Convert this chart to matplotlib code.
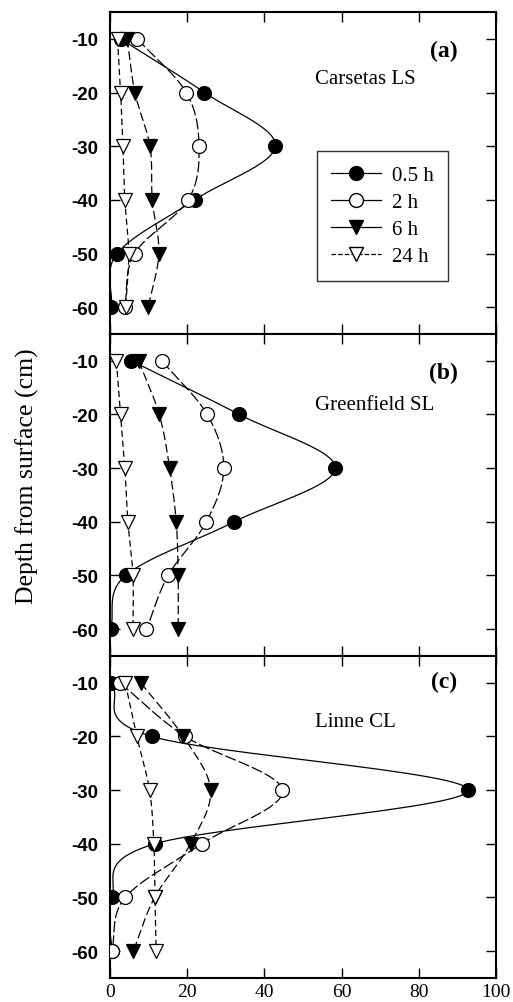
import numpy as np
import matplotlib
matplotlib.use("Agg")
import matplotlib.pyplot as plt

# Depth levels (cm) shared by all panels
depth = [-10, -20, -30, -40, -50, -60]

# Panel (a) Carsetas LS
a_05h = [2.8, 24.5, 42.9, 22.0, 1.9, 0.4]
a_2h = [7.1, 19.8, 23.1, 20.3, 6.4, 3.9]
a_6h = [4.5, 6.5, 10.4, 11.0, 12.7, 9.9]
a_24h = [2.0, 2.8, 3.4, 3.9, 4.9, 4.1]

# Panel (b) Greenfield SL
b_05h = [5.6, 33.5, 58.4, 32.2, 4.1, 0.2]
b_2h = [13.5, 25.2, 29.5, 25.0, 15.1, 9.5]
b_6h = [7.5, 12.8, 15.5, 17.2, 17.7, 17.7]
b_24h = [1.7, 2.8, 3.9, 4.7, 6.0, 6.0]

# Panel (c) Linne CL
c_05h = [0.3, 10.9, 92.8, 11.7, 0.5, 0.5]
c_2h = [2.6, 19.5, 44.7, 23.8, 4.0, 0.5]
c_6h = [8.0, 19.0, 26.1, 20.9, 11.6, 6.1]
c_24h = [4.0, 7.0, 10.3, 11.4, 11.7, 12.0]

panels = [
    ("(a)", "Carsetas LS", [a_05h, a_2h, a_6h, a_24h]),
    ("(b)", "Greenfield SL", [b_05h, b_2h, b_6h, b_24h]),
    ("(c)", "Linne CL", [c_05h, c_2h, c_6h, c_24h]),
]
series_labels = ["0.5 h", "2 h", "6 h", "24 h"]
x_ticks = [0, 20, 40, 60, 80, 100]
y_ticks = [-10, -20, -30, -40, -50, -60]


def smooth(ys, xs, n=30):
    # Catmull-Rom through the points, x as a function of depth
    ys = np.asarray(ys, float)
    xs = np.asarray(xs, float)
    py = np.concatenate([[2 * ys[0] - ys[1]], ys, [2 * ys[-1] - ys[-2]]])
    px = np.concatenate([[2 * xs[0] - xs[1]], xs, [2 * xs[-1] - xs[-2]]])
    out_y, out_x = [], []
    t = np.linspace(0, 1, n)
    for i in range(1, len(py) - 2):
        for p, out in ((py, out_y), (px, out_x)):
            p0, p1, p2, p3 = p[i - 1], p[i], p[i + 1], p[i + 2]
            out.append(0.5 * ((2 * p1) + (-p0 + p2) * t
                              + (2 * p0 - 5 * p1 + 4 * p2 - p3) * t ** 2
                              + (-p0 + 3 * p1 - 3 * p2 + p3) * t ** 3))
    return np.concatenate(out_y), np.maximum(np.concatenate(out_x), 0)


# marker, face colour, curve dashes, legend line style
styles = [
    ("o", "black", None, "-"),
    ("o", "white", (9, 2.5), "-"),
    ("v", "black", (7, 3), "-"),
    ("v", "white", (5, 3), "--"),
]

fig = plt.figure(figsize=(5.13, 10.03), dpi=100)
left, right = 0.214, 0.967
tops = [0.987, 0.666, 0.345]
h = 0.321

serif = "Liberation Serif"
sans = "Liberation Sans"

for k, (letter, soil, data) in enumerate(panels):
    ax = fig.add_axes([left, tops[k] - h, right - left, h])
    for vals, (mk, fc, dash, lls), lab in zip(data, styles, series_labels):
        cy, cx = smooth(depth, vals)
        line, = ax.plot(cx, cy, color="black", lw=0.9)
        if dash:
            line.set_dashes(dash)
        ax.plot(vals, depth, ls="none", marker=mk, mfc=fc,
                mec="black", mew=0.9, ms=10, zorder=3)
        # legend proxy
        ax.plot([], [], color="black", lw=0.9, ls=lls,
                marker=mk, mfc=fc, mec="black", ms=10, label=lab)
    ax.set_xlim(0, 100)
    ax.set_ylim(-65, -5)
    ax.set_xticks(x_ticks)
    ax.set_yticks(y_ticks)
    ax.tick_params(direction="in", length=7, width=1, top=True, right=True)
    ax.tick_params(axis="y", pad=8)
    for sp in ax.spines.values():
        sp.set_linewidth(1.5)
    ax.set_yticklabels([str(v) for v in y_ticks], fontfamily=sans,
                       fontweight="bold", fontsize=13.5)
    if k < 2:
        ax.set_xticklabels([])
    else:
        ax.set_xticklabels([str(v) for v in x_ticks], fontfamily=serif, fontsize=14)
    ax.text(0.90, 0.88 if k < 2 else 0.92, letter, transform=ax.transAxes,
            ha="right", va="center", fontfamily=serif, fontweight="bold", fontsize=17)
    ax.text(0.53, 0.795 if k != 1 else 0.78, soil, transform=ax.transAxes,
            ha="left", va="center", fontfamily=serif, fontsize=15)
    if k == 0:
        handles, labels = ax.get_legend_handles_labels()
        leg = ax.legend(handles, labels, loc="upper left",
                        bbox_to_anchor=(0.536, 0.568), borderaxespad=0,
                        frameon=True, fancybox=False,
                        edgecolor="black", prop=dict(family=serif, size=15),
                        handlelength=2.4, handletextpad=0.5, labelspacing=0.35,
                        borderpad=0.7)
        leg.get_frame().set_linewidth(1.0)

fig.text(27 / 513, 1 - 476 / 1003, "Depth from surface (cm)", rotation=90,
         ha="center", va="center", fontfamily=serif, fontsize=18.5)

fig.savefig("out.png", dpi=100)
